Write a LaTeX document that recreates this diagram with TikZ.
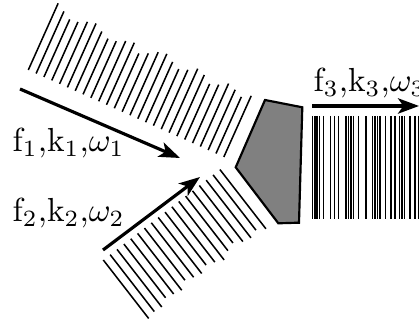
\documentclass[tikz,border=0pt]{standalone}
\usetikzlibrary{arrows.meta}
\begin{document}
\begin{tikzpicture}[x=0.3pt,y=-0.3pt,
  wave/.style={line width=0.46pt},
  beam/.style={line width=0.95pt,-{Stealth[length=6.3pt,width=4.6pt,inset=1.6pt]}},
  crystal/.style={draw=black,fill=gray,line width=0.65pt,line join=miter},
  lbl/.style={anchor=base west,inner sep=0pt,font=\fontsize{10}{12}\selectfont}]
\useasboundingbox (0,0) rectangle (419,327);

% nonlinear crystal
\draw[crystal] (265,100) -- (302.3,107.3) -- (299,222.7) -- (278.3,223.3) -- (235.7,167.3) -- cycle;
\node[inner sep=0pt] (xtal) at (270,165) {};

% input beam 1: wavefronts perpendicular to the propagation direction
\foreach \i/\L in {0/73,1/68,2/63,3/64,4/68,5/70,6/65,7/61,8/62,9/66,10/68,11/60,
                   12/64,13/69,14/71,15/66,16/62,17/65,18/70,19/67,20/61,21/64,
                   22/69,23/66,24/62,25/67}
  \draw[wave] ({28.3+\i*7.82},{70+\i*3.48}) -- ++({0.409*\L},{-0.913*\L});

% input beam 2
\foreach \i/\L in {0/74,1/72,2/73,3/68,4/70,5/72,6/66,7/69,8/71,9/67,
                   10/70,11/74,12/69,13/66,14/71,15/73,16/70,17/75}
  \draw[wave] ({103.3+\i*6.86},{260-\i*5.32}) -- ++({0.613*\L},{0.790*\L});

% generated beam: irregular (beating) wavefronts
\foreach \x in {312.7,315,317,319.5,323.3,330.7,334.7,338.3,346,348.3,351,353.5,
                358.7,366,372.7,375,377.3,380,385.5,391,395,399.5,402,404.5,410,415,418.3}
  \draw[wave] (\x,116) -- (\x,219);

% propagation arrows
\coordinate (a1s) at (20,89);   \coordinate (a1e) at (180,158);
\coordinate (a2s) at (103,250); \coordinate (a2e) at (200,177);
\coordinate (a3s) at (312,106); \coordinate (a3e) at (419,106);
\draw[beam] (a1s) -- (a1e);
\draw[beam] (a2s) -- (a2e);
\draw[beam] (a3s) -- (a3e);

% labels
\node[lbl] (l1) at (12,152) {f$_1$,k$_1$,$\omega_1$};
\node[lbl] (l2) at (12,222) {f$_2$,k$_2$,$\omega_2$};
\node[lbl] (l3) at (313,92) {f$_3$,k$_3$,$\omega_3$};
\end{tikzpicture}
\end{document}
